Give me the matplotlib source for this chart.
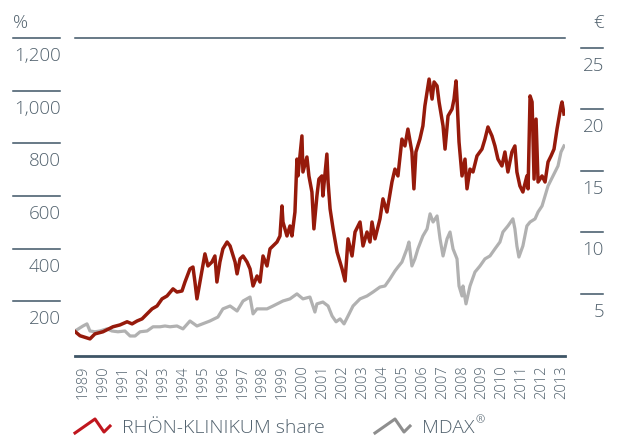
import matplotlib
matplotlib.use("Agg")
import matplotlib.pyplot as plt
import matplotlib.transforms as mtrans
from matplotlib.lines import Line2D

# RHÖN-KLINIKUM share, indexed (%)
rhoenYears = [1989.10, 1989.35, 1989.85, 1990.10, 1990.50, 1991.00, 1991.35, 1991.71, 1991.96, 1992.21,
              1992.46, 1992.71, 1992.96, 1993.21, 1993.46, 1993.71, 1994.01, 1994.21, 1994.46, 1994.61,
              1994.86, 1995.01, 1995.11, 1995.21, 1995.36, 1995.61, 1995.76, 1995.96, 1996.11, 1996.21,
              1996.36, 1996.51, 1996.72, 1996.87, 1997.12, 1997.22, 1997.37, 1997.52, 1997.72, 1997.87,
              1998.02, 1998.22, 1998.37, 1998.52, 1998.72, 1998.87, 1999.02, 1999.22, 1999.37, 1999.47,
              1999.52, 1999.72, 1999.87, 1999.97, 2000.12, 2000.22, 2000.27, 2000.37, 2000.47, 2000.52,
              2000.72, 2000.82, 2000.97, 2001.07, 2001.22, 2001.32, 2001.47, 2001.52, 2001.72, 2001.78,
              2001.88, 2002.03, 2002.23, 2002.38, 2002.48, 2002.63, 2002.78, 2002.98, 2003.13, 2003.38,
              2003.53, 2003.73, 2003.88, 2003.98, 2004.13, 2004.38, 2004.53, 2004.73, 2004.98, 2005.13,
              2005.28, 2005.48, 2005.63, 2005.78, 2005.98, 2006.08, 2006.18, 2006.38, 2006.53, 2006.63,
              2006.74, 2006.84, 2006.99, 2007.09, 2007.24, 2007.34, 2007.54, 2007.64, 2007.79, 2007.99,
              2008.09, 2008.19, 2008.24, 2008.34, 2008.49, 2008.64, 2008.74, 2008.89, 2009.04, 2009.24,
              2009.49, 2009.64, 2009.79, 2009.99, 2010.14, 2010.29, 2010.49, 2010.64, 2010.79, 2010.99,
              2011.14, 2011.24, 2011.39, 2011.54, 2011.74, 2011.80, 2011.90, 2012.00, 2012.10, 2012.20,
              2012.30, 2012.50, 2012.65, 2012.80, 2012.95, 2013.10, 2013.25, 2013.45, 2013.50, 2013.60]
rhoenValues = [85, 69, 57, 76, 84, 103, 110, 122, 114, 125,
               133, 152, 171, 182, 209, 220, 247, 235, 239, 273,
               323, 330, 273, 209, 273, 380, 334, 349, 372, 273,
               349, 399, 425, 410, 349, 304, 361, 372, 349, 323,
               258, 296, 273, 372, 334, 399, 410, 425, 448, 562,
               501, 448, 486, 448, 539, 740, 676, 752, 828, 691,
               748, 676, 615, 475, 600, 664, 676, 600, 759, 653,
               551, 475, 387, 349, 323, 277, 437, 372, 463, 501,
               410, 463, 425, 501, 437, 513, 589, 539, 653, 702,
               676, 816, 790, 854, 767, 627, 767, 816, 866, 942,
               995, 1044, 968, 1033, 1018, 957, 866, 778, 904, 930,
               968, 1037, 968, 805, 676, 740, 627, 702, 691, 752,
               778, 816, 862, 828, 790, 740, 714, 767, 691, 767,
               790, 691, 638, 615, 676, 627, 980, 957, 664, 892,
               653, 676, 653, 729, 752, 778, 854, 942, 957, 911]

# MDAX, indexed (%)
mdaxYears = [1989.10, 1989.50, 1989.70, 1989.85, 1990.10, 1990.35, 1990.70, 1990.95, 1991.25, 1991.60,
             1991.86, 1992.11, 1992.36, 1992.71, 1993.01, 1993.36, 1993.61, 1993.86, 1994.21, 1994.51,
             1994.86, 1995.21, 1995.86, 1996.26, 1996.51, 1996.87, 1997.22, 1997.52, 1997.87, 1998.02,
             1998.22, 1998.72, 1999.02, 1999.52, 1999.87, 2000.22, 2000.52, 2000.87, 2001.12, 2001.22,
             2001.52, 2001.78, 2001.98, 2002.18, 2002.38, 2002.58, 2002.78, 2003.03, 2003.38, 2003.73,
             2004.03, 2004.38, 2004.63, 2004.88, 2005.13, 2005.28, 2005.48, 2005.73, 2005.83, 2005.98,
             2006.13, 2006.28, 2006.53, 2006.74, 2006.89, 2007.04, 2007.24, 2007.39, 2007.54, 2007.74,
             2007.89, 2008.04, 2008.24, 2008.34, 2008.49, 2008.54, 2008.69, 2008.89, 2009.14, 2009.39,
             2009.64, 2009.89, 2010.14, 2010.39, 2010.54, 2010.79, 2011.04, 2011.14, 2011.24, 2011.34,
             2011.54, 2011.74, 2011.90, 2012.15, 2012.30, 2012.50, 2012.65, 2012.80, 2013.05, 2013.30,
             2013.45, 2013.60]
mdaxValues = [87, 106, 114, 87, 84, 87, 95, 87, 84, 87,
              68, 68, 84, 87, 103, 103, 106, 103, 106, 95,
              125, 106, 125, 140, 171, 182, 163, 201, 216, 152,
              171, 171, 182, 201, 209, 228, 209, 216, 159, 190,
              197, 182, 144, 122, 133, 114, 144, 182, 209, 220,
              235, 254, 258, 285, 315, 330, 349, 399, 425, 334,
              361, 399, 448, 475, 532, 501, 524, 437, 372, 437,
              463, 399, 361, 258, 220, 258, 190, 258, 311, 334,
              361, 372, 399, 425, 463, 486, 513, 475, 410, 368,
              410, 486, 501, 513, 539, 562, 600, 638, 676, 714,
              767, 790]

yearLabels = list(range(1989, 2014))
leftTicks = [200, 400, 600, 800, 1000, 1200]
leftLabels = ["200", "400", "600", "800", "1,000", "1,200"]
rightTicks = [5, 10, 15, 20, 25]
rightLabels = ["5", "10", "15", "20", "25"]

plt.rcParams['font.family'] = ['Open Sans', 'DejaVu Sans']
textColor = "#52626e";
ruleColor = "#3e5566";
redColor = "#961a0b";
grayColor = "#b1b1b1";

fig = plt.figure(figsize=(6.17, 4.39), dpi=100)
ax = fig.add_axes([75 / 617, 1 - 357 / 439, 490 / 617, 318 / 439])
ax2 = ax.twinx()

ax.plot(mdaxYears, mdaxValues, color=grayColor, linewidth=2.3, zorder=2)
ax.plot(rhoenYears, rhoenValues, color=redColor, linewidth=2.5, zorder=3)

ax.set_xlim(1989.1, 2013.65)
ax.set_ylim(-8, 1200)
ax2.set_ylim(-0.04, 25.81)

for a in (ax, ax2):
	for side in ("left", "right", "top", "bottom"):
		a.spines[side].set_visible(False)
	a.set_yticks([])
ax.spines["bottom"].set_visible(True)
ax.spines["bottom"].set_color(ruleColor)
ax.spines["bottom"].set_linewidth(2.0)
ax.spines["top"].set_visible(True)
ax.spines["top"].set_color(ruleColor)
ax.spines["top"].set_linewidth(1.1)

ax.set_xticks([y + 0.5 for y in yearLabels])
ax.set_xticklabels([str(y) for y in yearLabels], rotation=90, fontsize=10.5, color=textColor, fontweight="light")
ax.tick_params(axis="x", length=0, pad=6)

# left tick rules and labels
leftTrans = mtrans.blended_transform_factory(ax.transAxes, ax.transData)
for v, lab in zip(leftTicks, leftLabels):
	ax.add_line(Line2D([-0.1265, -0.0306], [v, v], transform=leftTrans, color=ruleColor, linewidth=1.1, clip_on=False))
	ax.annotate(lab, xy=(-0.0306, v), xycoords=leftTrans, xytext=(1, -8), textcoords="offset pixels",
		ha="right", va="top", fontsize=13.5, color=textColor, fontweight="light")

# right tick rules and labels
rightTrans = mtrans.blended_transform_factory(ax2.transAxes, ax2.transData)
for v, lab in zip(rightTicks, rightLabels):
	ax2.add_line(Line2D([1.0327, 1.0776], [v, v], transform=rightTrans, color=ruleColor, linewidth=1.1, clip_on=False))
	ax2.annotate(lab, xy=(1.0776, v), xycoords=rightTrans, xytext=(1, -8), textcoords="offset pixels",
		ha="right", va="top", fontsize=13.5, color=textColor, fontweight="light")

fig.text(13 / 617, 1 - 23 / 439, "%", fontsize=13.5, color=textColor, va="center", ha="left", fontweight="light")
fig.text(604 / 617, 1 - 23 / 439, "€", fontsize=13.5, color=textColor, va="center", ha="right", fontweight="light")

# legend
iconX = [0, 20, 29, 35]
iconY = [434, 420, 433, 427]
for x0, col, lab in ((75, "#c0161e", "RHÖN-KLINIKUM share"), (375, "#8e8e8e", "MDAX")):
	fig.add_artist(Line2D([(x0 + dx) / 617 for dx in iconX], [1 - y / 439 for y in iconY],
		transform=fig.transFigure, color=col, linewidth=2.2))
	fig.text((x0 + 47) / 617, 1 - 428 / 439, lab, fontsize=14, color=textColor, va="center", ha="left", fontweight="light")
fig.text(476 / 617, 1 - 421 / 439, "®", fontsize=8, color=textColor, va="center", ha="left", fontweight="light")

fig.savefig("out.png", dpi=100)
